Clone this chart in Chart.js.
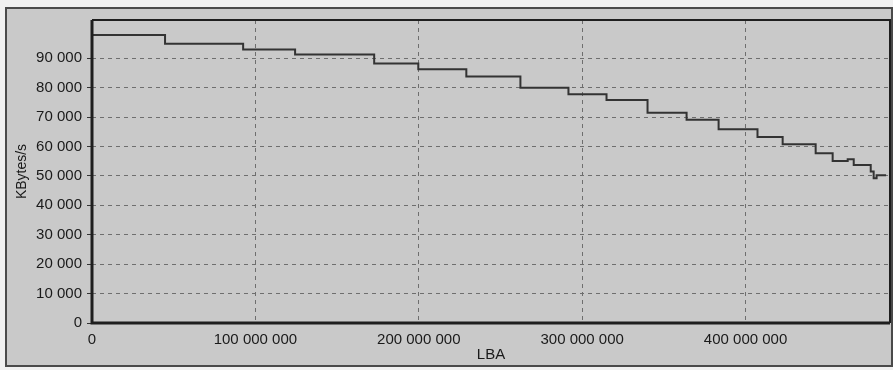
<!DOCTYPE html>
<html>
<head>
<meta charset="utf-8">
<script src="https://cdn.jsdelivr.net/npm/chart.js@4.4.1/dist/chart.umd.min.js"></script>
<style>
html,body{margin:0;padding:0;background:#efefef;}
#wrap{position:relative;width:893px;height:370px;}
</style>
</head>
<body>
<div id="wrap"><canvas id="c" width="893" height="370"></canvas></div>
<script>
// LBA where each level starts (millions of sectors)
const lbaMillions = [0, 44.7, 92.5, 124.3, 172.7, 199.7, 229.1, 262.2, 291.6, 314.9, 340.0, 363.9, 383.5, 407.3, 422.7, 442.9, 453.3, 462.5, 466.2, 476.6, 478.4, 480.2, 486.0];
// Transfer rate (KBytes/s)
const kbytesPerSec = [97900, 94900, 93000, 91300, 88200, 86300, 83800, 80000, 77800, 75800, 71500, 69100, 65900, 63200, 60800, 57700, 55100, 55700, 53700, 51500, 49200, 50200, 50200];
const yTickValues = [0, 10000, 20000, 30000, 40000, 50000, 60000, 70000, 80000, 90000];
const xTickValues = [0, 100000000, 200000000, 300000000, 400000000];
const xMax = 488397168;
const yMax = 103000;
const xTitle = 'LBA';
const yTitle = 'KBytes/s';

const fmt = v => String(Math.round(v)).replace(/\B(?=(\d{3})+(?!\d))/g, ' ');
const points = lbaMillions.map((m, i) => ({x: m * 1e6, y: kbytesPerSec[i]}));

const bgPlugin = {
  id: 'bg',
  beforeDraw(chart) {
    const ctx = chart.ctx;
    ctx.save();
    ctx.fillStyle = '#f0f0f0';
    ctx.fillRect(0, 0, chart.width, chart.height);
    ctx.fillStyle = '#c9c9c9';
    ctx.fillRect(6, 7, 887, 360);
    ctx.strokeStyle = '#4a4a4a';
    ctx.lineWidth = 2;
    ctx.strokeRect(6, 8, 886, 358);
    ctx.restore();
  },
  afterDatasetsDraw(chart) {
    const a = chart.chartArea, ctx = chart.ctx;
    ctx.save();
    ctx.strokeStyle = '#1e1e1e';
    ctx.lineWidth = 2;
    ctx.beginPath();
    ctx.moveTo(a.left, a.top); ctx.lineTo(a.right, a.top); ctx.lineTo(a.right, a.bottom);
    ctx.stroke();
    ctx.lineWidth = 3;
    ctx.beginPath();
    ctx.moveTo(a.left, a.top); ctx.lineTo(a.left, a.bottom); ctx.lineTo(a.right, a.bottom);
    ctx.stroke();
    ctx.restore();
  }
};

new Chart(document.getElementById('c'), {
  type: 'line',
  data: {
    datasets: [{
      data: points,
      borderColor: '#333333',
      borderWidth: 2,
      pointRadius: 0,
      stepped: true,
      fill: false
    }]
  },
  options: {
    responsive: false,
    animation: false,
    events: [],
    layout: {padding: {left: 0, right: 3, top: 20, bottom: 0}},
    plugins: {legend: {display: false}, tooltip: {enabled: false}},
    scales: {
      x: {
        type: 'linear',
        min: 0,
        max: xMax,
        afterBuildTicks: s => { s.ticks = xTickValues.map(v => ({value: v})); },
        afterFit: s => { s.height = 47; },
        border: {display: false, dash: [4, 4]},
        grid: {color: '#6e6e6e', lineWidth: 1, drawTicks: false},
        ticks: {
          color: '#1a1a1a', padding: 8,
          font: {family: 'Liberation Sans', size: 15},
          maxRotation: 0,
          callback: v => fmt(v)
        },
        title: {
          display: true, text: xTitle, color: '#1a1a1a', padding: {top: 0, bottom: 6},
          font: {family: 'Liberation Sans', size: 15}
        }
      },
      y: {
        min: 0,
        max: yMax,
        afterBuildTicks: s => { s.ticks = yTickValues.map(v => ({value: v})); },
        afterFit: s => { s.width = 92; },
        border: {display: false, dash: [4, 4]},
        grid: {color: '#6e6e6e', lineWidth: 1, drawTicks: true, tickLength: 5, tickColor: '#333', tickBorderDash: []},
        ticks: {
          color: '#1a1a1a', padding: 5,
          font: {family: 'Liberation Sans', size: 15},
          callback: v => fmt(v)
        },
        title: {
          display: true, text: yTitle, color: '#1a1a1a', padding: {top: 14, bottom: 0},
          font: {family: 'Liberation Sans', size: 14}
        }
      }
    }
  },
  plugins: [bgPlugin]
});
</script>
</body>
</html>
